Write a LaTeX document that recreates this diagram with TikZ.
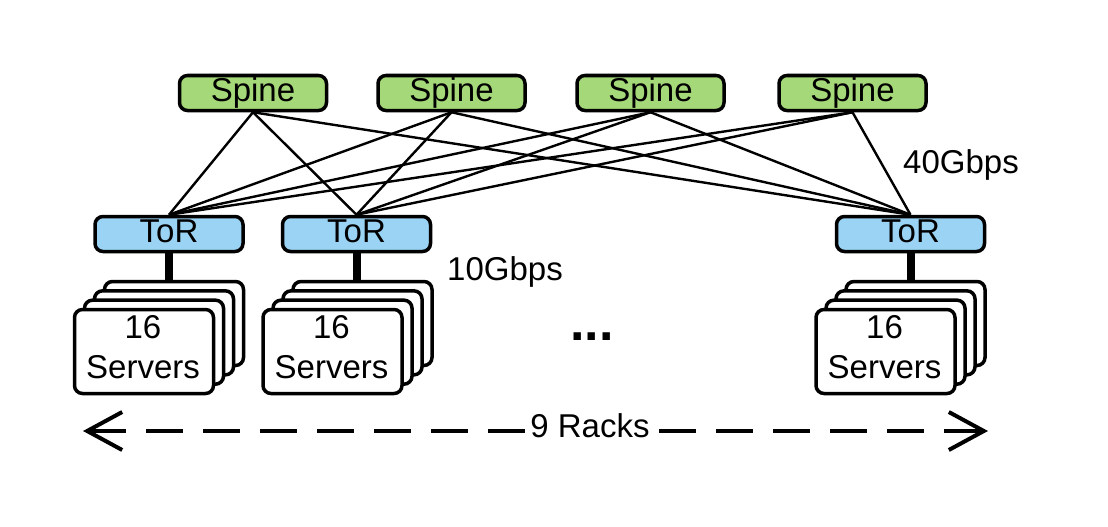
\documentclass[tikz,border=0pt]{standalone}
\usepackage{fontspec}
\setmainfont{Liberation Sans}
\usetikzlibrary{arrows.meta}
\definecolor{spinegreen}{RGB}{165,216,120}
\definecolor{torblue}{RGB}{154,211,243}
\begin{document}
\begin{tikzpicture}[x=1pt,y=-1pt,
  every node/.style={font=\fontsize{33}{40}\selectfont, inner sep=0pt},
  box/.style={draw, line width=3.5pt, rounded corners=8pt},
  spinebox/.style={box, fill=spinegreen, minimum width=147pt, minimum height=35pt, text height=23.5pt, text depth=6pt},
  torbox/.style={box, fill=torblue, minimum width=148pt, minimum height=35pt, text height=23.5pt, text depth=6pt},
  srvbox/.style={box, fill=white, minimum width=139pt, minimum height=84pt},
  link/.style={line width=2.4pt},
  uplink/.style={line width=8pt},
  lbl/.style={anchor=base west},
  span/.style={line width=4pt, dash pattern=on 37pt off 20pt,
    {Straight Barb[length=35pt,width=38pt]}-{Straight Barb[length=35pt,width=38pt]}}]
\useasboundingbox (0,0) rectangle (1108,527);

% spines
\node[spinebox] (sp1) at (253,93) {Spine};
\node[spinebox] (sp2) at (451.5,93) {Spine};
\node[spinebox] (sp3) at (650.5,93) {Spine};
\node[spinebox] (sp4) at (852.5,93) {Spine};

% ToRs
\node[torbox] (t1) at (169,234) {ToR};
\node[torbox] (t2) at (356.5,234) {ToR};
\node[torbox] (t3) at (910.5,234) {ToR};

% spine-ToR links
\foreach \s in {1,...,4}{
  \foreach \t in {1,2,3}{
    \draw[link] (sp\s.south) -- (t\t.north);
  }
}

% server stacks
\foreach \i/\cx in {1/144,2/332.5,3/885.5}{
  \foreach \k in {3,2,1}{
    \node[srvbox] (s\i b\k) at ({\cx+10*\k},{351.5-9.33*\k}) {};
  }
  \node[srvbox] (s\i) at (\cx,351.5) {};
  \node[align=center] (s\i t) at (\cx-1,347) {16\\Servers};
}

% ToR-server uplinks
\foreach \i in {1,2,3}{
  \draw[uplink] (t\i.south) -- (t\i.south |- s\i b3.north);
}

% labels
\node[lbl] (l40) at (903,173) {40Gbps};
\node[lbl] (l10) at (447,280) {10Gbps};
\node[lbl, font=\fontsize{52}{52}\selectfont\bfseries] (dots) at (570,340) {...};

% racks span
\coordinate (al) at (83,431);
\coordinate (ar) at (988,431);
\draw[span] (al) -- (ar);
\node[fill=white, inner xsep=1pt, inner ysep=2pt] (racks) at (590,425.5) {9 Racks};
\end{tikzpicture}
\end{document}
